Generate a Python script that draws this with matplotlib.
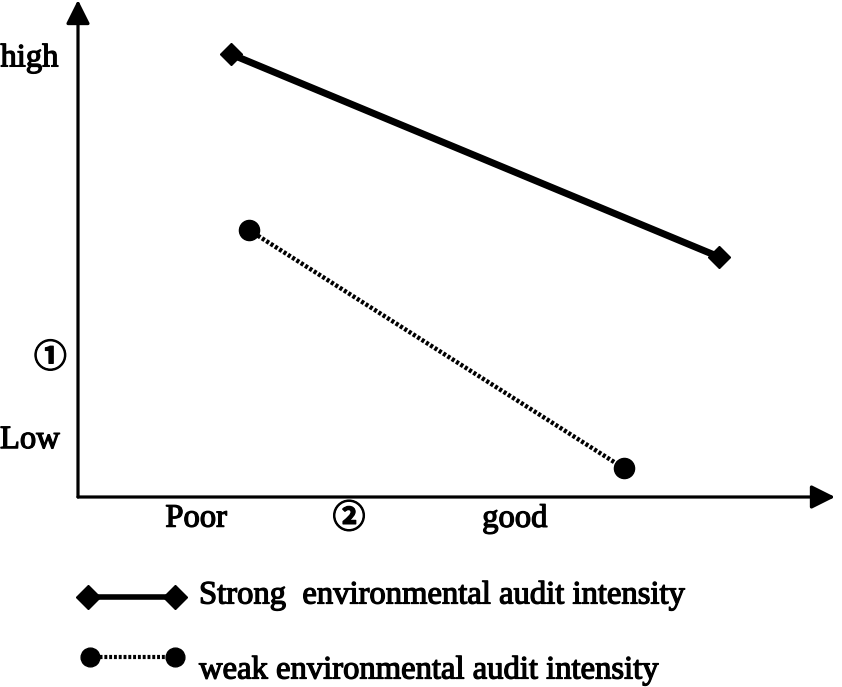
import matplotlib
matplotlib.use("Agg")
import matplotlib.pyplot as plt
import matplotlib.patheffects as pe
from matplotlib.lines import Line2D

plt.rcParams['font.family'] = ['Liberation Serif', 'Noto Sans CJK SC', 'DejaVu Sans']

# Data (schematic units)
strong_x = [2.02, 8.47]
strong_y = [8.91, 4.83]
weak_x = [2.26, 7.21]
weak_y = [5.37, 0.58]

y_tick_pos = [8.83, 2.80, 1.15]
y_tick_labels = ["high", "\u2460", "Low"]
x_tick_pos = [1.56, 3.58, 5.77]
x_tick_labels = ["Poor", "\u2461", "good"]

legend_labels = ["Strong  environmental audit intensity",
                 "weak environmental audit intensity"]

W, H = 842, 687
fig = plt.figure(figsize=(W / 100, H / 100), dpi=100)
ax = fig.add_axes([78 / W, 190 / H, (835 - 78) / W, 497 / H])
ax.set_xlim(0, 10)
ax.set_ylim(0, 10)
ax.axis('off')

# axes arrows
for tip in [(0, 1), (1, 0)]:
    ax.annotate("", xy=tip, xytext=(0, 0), xycoords='axes fraction',
                arrowprops=dict(arrowstyle='-|>', mutation_scale=36, lw=2.3,
                                color='black', shrinkA=0, shrinkB=0),
                annotation_clip=False)

ax.plot(strong_x, strong_y, color='black', lw=5, marker='D', markersize=11,
        solid_capstyle='butt', clip_on=False)
ax.plot(weak_x, weak_y, color='black', lw=3.2, linestyle=(0, (0.7, 0.45)), marker='o',
        markersize=14.5, clip_on=False)

fs = 23.5
heavy = [pe.withStroke(linewidth=0.9, foreground='black')]
ytr = ax.get_yaxis_transform()
y_offsets = [-0.026, -0.015, -0.024]
y_fonts = [['Liberation Serif'], ['Noto Sans CJK SC'], ['Liberation Serif']]
for p, lab, off, fam in zip(y_tick_pos, y_tick_labels, y_offsets, y_fonts):
    ax.text(off, p, lab, transform=ytr, ha='right', va='center', fontsize=fs,
            family=fam, fontweight='bold' if fam[0].startswith('Noto') else 'normal',
            path_effects=heavy)
xtr = ax.get_xaxis_transform()
x_fonts = [['Liberation Serif'], ['Noto Sans CJK SC'], ['Liberation Serif']]
for p, lab, fam in zip(x_tick_pos, x_tick_labels, x_fonts):
    ax.text(p, -0.043, lab, transform=xtr, ha='center', va='center', fontsize=fs,
            family=fam, fontweight='bold' if fam[0].startswith('Noto') else 'normal',
            path_effects=heavy)

# legend (drawn manually)
def fy(py):
    return 1 - py / H

fig.add_artist(Line2D([88 / W, 175 / W], [fy(597), fy(597)], color='black', lw=4,
                      marker='D', markersize=12, transform=fig.transFigure))
fig.add_artist(Line2D([90 / W, 175 / W], [fy(657), fy(657)], color='black', lw=3.0,
                      linestyle=(0, (0.7, 0.45)), marker='o', markersize=13.5,
                      transform=fig.transFigure))
fig.text(199 / W, fy(595), legend_labels[0], ha='left', va='center', fontsize=fs,
         path_effects=heavy)
fig.text(199 / W, fy(670), legend_labels[1], ha='left', va='center', fontsize=fs,
         path_effects=heavy)

fig.savefig("out.png", dpi=100)
